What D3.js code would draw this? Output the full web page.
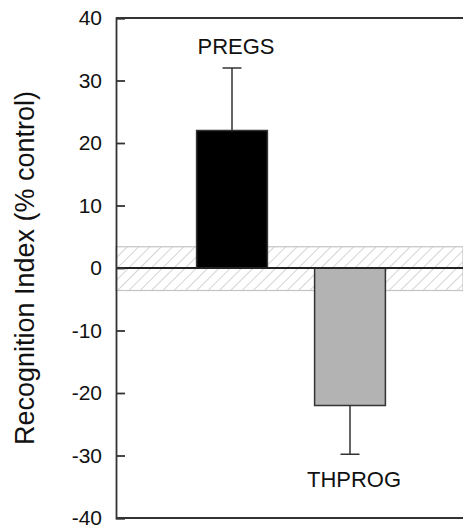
<!DOCTYPE html>
<html>
<head>
<meta charset="utf-8">
<script src="https://cdn.jsdelivr.net/npm/d3@7"></script>
<style>
  body { margin: 0; background: #fff; }
  text { font-family: 'Liberation Sans', Arial, sans-serif; fill: #111; }
</style>
</head>
<body>
<div id="chart"></div>
<script>
// data
var groups = ["PREGS", "THPROG"];
var means = [22, -22];
var errors = [10, 7.8];
var barColors = ["#000000", "#b3b3b3"];
var yTicks = [-40, -30, -20, -10, 0, 10, 20, 30, 40];
var controlBand = [-3.6, 3.4];

var width = 463, height = 527;
var plot = {left: 116, right: 463, top: 18, bottom: 518};

var svg = d3.select("#chart").append("svg")
    .attr("width", width)
    .attr("height", height);

var y = d3.scaleLinear().domain([-40, 40]).range([plot.bottom, plot.top]);
var x = d3.scaleBand().domain(groups).range([173, 409])
    .paddingInner(0.4).paddingOuter(0.2);

// hatch pattern for the control band
var defs = svg.append("defs");
var pat = defs.append("pattern")
    .attr("id", "hatch")
    .attr("patternUnits", "userSpaceOnUse")
    .attr("width", 8).attr("height", 8)
    .attr("patternTransform", "rotate(45)");
pat.append("line")
    .attr("x1", 0).attr("y1", 0).attr("x2", 0).attr("y2", 8)
    .attr("stroke", "#bdbdbd").attr("stroke-width", 1.3);

// control band (+/- SEM of controls)
svg.append("rect")
    .attr("x", plot.left)
    .attr("y", y(controlBand[1]))
    .attr("width", plot.right - plot.left)
    .attr("height", y(controlBand[0]) - y(controlBand[1]))
    .attr("fill", "url(#hatch)")
    .attr("stroke", "#c4c4c4")
    .attr("stroke-width", 1.2);

// error bars
var eb = svg.append("g").attr("class", "errorbars");
groups.forEach(function(g, i) {
  var cx = x(g) + x.bandwidth() / 2;
  var tip = means[i] + (means[i] >= 0 ? errors[i] : -errors[i]);
  eb.append("line")
      .attr("x1", cx).attr("x2", cx)
      .attr("y1", y(means[i])).attr("y2", y(tip))
      .attr("stroke", "#333").attr("stroke-width", 1.5);
  eb.append("line")
      .attr("x1", cx - 9.5).attr("x2", cx + 9.5)
      .attr("y1", y(tip)).attr("y2", y(tip))
      .attr("stroke", "#333").attr("stroke-width", 1.5);
});

// bars
svg.append("g").selectAll("rect")
    .data(groups)
  .enter().append("rect")
    .attr("x", function(d) { return x(d); })
    .attr("width", x.bandwidth())
    .attr("y", function(d, i) { return y(Math.max(0, means[i])); })
    .attr("height", function(d, i) { return Math.abs(y(means[i]) - y(0)); })
    .attr("fill", function(d, i) { return barColors[i]; })
    .attr("stroke", "#333")
    .attr("stroke-width", 1.5);

// zero line
svg.append("line")
    .attr("x1", plot.left).attr("x2", plot.right)
    .attr("y1", y(0)).attr("y2", y(0))
    .attr("stroke", "#222").attr("stroke-width", 1.8);

// top and bottom frame lines
[plot.top, plot.bottom].forEach(function(yy) {
  svg.append("line")
      .attr("x1", plot.left).attr("x2", plot.right)
      .attr("y1", yy).attr("y2", yy)
      .attr("stroke", "#333").attr("stroke-width", 1.8);
});

// y axis, ticks pointing into the plot
var yAxis = svg.append("g")
    .attr("transform", "translate(" + plot.left + ",0)")
    .call(d3.axisRight(y).tickValues(yTicks).tickSize(9)
      .tickFormat(function(d) { return String(d); }));
yAxis.select(".domain").attr("stroke", "#333").attr("stroke-width", 1.8);
yAxis.selectAll(".tick line").attr("stroke", "#333").attr("stroke-width", 1.8);
yAxis.selectAll(".tick text")
    .attr("x", -14)
    .attr("text-anchor", "end")
    .style("font-size", "21px")
    .style("font-family", "'Liberation Sans', Arial, sans-serif")
    .attr("fill", "#111");

// axis title
svg.append("text")
    .attr("transform", "translate(34," + y(0) + ") rotate(-90)")
    .attr("text-anchor", "middle")
    .style("font-size", "27px")
    .text("Recognition Index (% control)");

// group labels
groups.forEach(function(g, i) {
  var cx = x(g) + x.bandwidth() / 2;
  var tip = means[i] + (means[i] >= 0 ? errors[i] : -errors[i]);
  svg.append("text")
      .attr("x", cx + 4)
      .attr("y", means[i] >= 0 ? y(tip) - 14 : y(tip) + 33)
      .attr("text-anchor", "middle")
      .style("font-size", "22px")
      .text(g);
});
</script>
</body>
</html>
